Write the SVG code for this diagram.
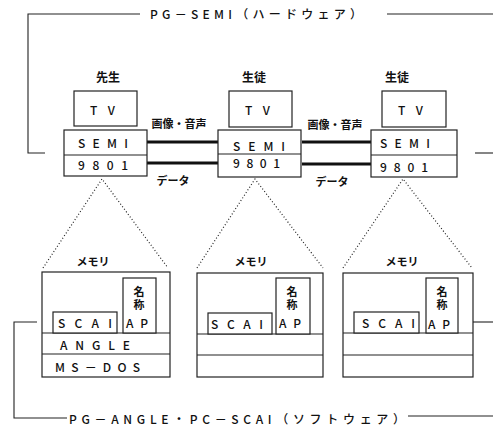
<svg xmlns="http://www.w3.org/2000/svg" width="493" height="431" viewBox="0 0 493 431">
<style>
  .box{fill:#fff;stroke:#222;stroke-width:1.2}
  .ln{fill:none;stroke:#222;stroke-width:1.1}
  .thick{fill:none;stroke:#111;stroke-width:3}
  .dot{fill:none;stroke:#222;stroke-width:1.2;stroke-dasharray:1 2.2}
  text{font-family:"Noto Sans CJK JP","Noto Sans",sans-serif;fill:#111}
  .t{font-size:12px;font-weight:500}
  .lbl{font-size:12px;font-weight:bold}
  .sm{font-size:11px;font-weight:bold}
  .mid{text-anchor:middle}
  .vert{font-size:11px;font-weight:bold;writing-mode:vertical-rl;letter-spacing:2px}
</style>
<rect width="493" height="431" fill="#fff"/>

<g id="brackets">
  <polyline class="ln" points="140,14 28,14 28,153 45,153"/>
  <line class="ln" x1="387" y1="14" x2="493" y2="14"/>
  <line class="ln" x1="475" y1="153" x2="493" y2="153"/>
  <text class="t" x="150" y="19" textLength="212" lengthAdjust="spacing">PG－SEMI（ハードウェア）</text>
  <polyline class="ln" points="37,322 14,322 14,418 67,418"/>
  <line class="ln" x1="408" y1="416" x2="493" y2="416"/>
  <line class="ln" x1="473" y1="322" x2="493" y2="322"/>
  <text class="t" x="69" y="424" textLength="336" lengthAdjust="spacing">PG－ANGLE・PC－SCAI（ソフトウェア）</text>
</g>

<g id="connectors">
  <line class="thick" x1="147" y1="142" x2="218" y2="142"/>
  <line class="thick" x1="147" y1="163" x2="218" y2="163"/>
  <line class="thick" x1="302" y1="142" x2="371" y2="142"/>
  <line class="thick" x1="302" y1="164" x2="371" y2="164"/>
  <text class="sm mid" x="179" y="128">画像・音声</text>
  <text class="sm mid" x="335" y="129">画像・音声</text>
  <text class="sm mid" x="173" y="185">データ</text>
  <text class="sm mid" x="332" y="186">データ</text>
  <polyline class="dot" points="43,268 102,179 168,268"/>
  <polyline class="dot" points="197,268 255,179 323,268"/>
  <polyline class="dot" points="343,268 403,179 472,268"/>
</g>

<g id="pc1">
  <text class="lbl mid" x="108" y="82">先生</text>
  <rect class="box" x="74" y="91" width="63" height="35"/>
  <text class="t" x="90" y="115" textLength="25" lengthAdjust="spacing">TV</text>
  <rect class="box" x="64" y="130" width="83" height="46"/>
  <line class="ln" x1="64" y1="155" x2="147" y2="155"/>
  <text class="t" x="78" y="148" textLength="50" lengthAdjust="spacing">SEMI</text>
  <text class="t" x="78" y="170" textLength="50" lengthAdjust="spacing">9801</text>
</g>
<g id="pc2">
  <text class="lbl mid" x="254" y="82">生徒</text>
  <rect class="box" x="229" y="91" width="63" height="36"/>
  <text class="t" x="245" y="115" textLength="25" lengthAdjust="spacing">TV</text>
  <rect class="box" x="218" y="130" width="83" height="47"/>
  <line class="ln" x1="218" y1="154" x2="301" y2="154"/>
  <text class="t" x="233" y="151" textLength="52" lengthAdjust="spacing">SEMI</text>
  <text class="t" x="233" y="168" textLength="47" lengthAdjust="spacing">9801</text>
</g>
<g id="pc3">
  <text class="lbl mid" x="397" y="82">生徒</text>
  <rect class="box" x="382" y="91" width="64" height="36"/>
  <text class="t" x="398" y="115" textLength="25" lengthAdjust="spacing">TV</text>
  <rect class="box" x="371" y="130" width="86" height="47"/>
  <line class="ln" x1="371" y1="155" x2="457" y2="155"/>
  <text class="t" x="380" y="148" textLength="50" lengthAdjust="spacing">SEMI</text>
  <text class="t" x="380" y="172" textLength="48" lengthAdjust="spacing">9801</text>
</g>

<g id="mem1">
  <text class="sm mid" x="93" y="266">メモリ</text>
  <rect class="box" x="42" y="272" width="128" height="105"/>
  <line class="ln" x1="42" y1="333" x2="170" y2="333"/>
  <line class="ln" x1="42" y1="354" x2="170" y2="354"/>
  <rect class="box" x="53" y="312" width="64" height="21"/>
  <text class="t" x="58" y="328" textLength="54" lengthAdjust="spacing">SCAI</text>
  <rect class="box" x="123" y="278" width="33" height="55"/>
  <text class="vert" x="139" y="286">名称</text>
  <text class="t" x="126" y="328" textLength="22" lengthAdjust="spacing">AP</text>
  <text class="t" x="60" y="350" textLength="70" lengthAdjust="spacing">ANGLE</text>
  <text class="t" x="55" y="372" textLength="85" lengthAdjust="spacing">MS－DOS</text>
</g>
<g id="mem2">
  <text class="sm mid" x="251" y="266">メモリ</text>
  <rect class="box" x="197" y="273" width="126" height="104"/>
  <line class="ln" x1="197" y1="334" x2="323" y2="334"/>
  <line class="ln" x1="197" y1="355" x2="323" y2="355"/>
  <rect class="box" x="208" y="313" width="64" height="21"/>
  <text class="t" x="211" y="329" textLength="52" lengthAdjust="spacing">SCAI</text>
  <rect class="box" x="276" y="278" width="34" height="56"/>
  <text class="vert" x="292" y="286">名称</text>
  <text class="t" x="279" y="328" textLength="22" lengthAdjust="spacing">AP</text>
</g>
<g id="mem3">
  <text class="sm mid" x="402" y="266">メモリ</text>
  <rect class="box" x="343" y="273" width="130" height="104"/>
  <line class="ln" x1="343" y1="333" x2="473" y2="333"/>
  <line class="ln" x1="343" y1="355" x2="473" y2="355"/>
  <rect class="box" x="354" y="312" width="65" height="21"/>
  <text class="t" x="362" y="328" textLength="53" lengthAdjust="spacing">SCAI</text>
  <rect class="box" x="426" y="278" width="32" height="55"/>
  <text class="vert" x="442" y="286">名称</text>
  <text class="t" x="428" y="329" textLength="22" lengthAdjust="spacing">AP</text>
</g>
</svg>
